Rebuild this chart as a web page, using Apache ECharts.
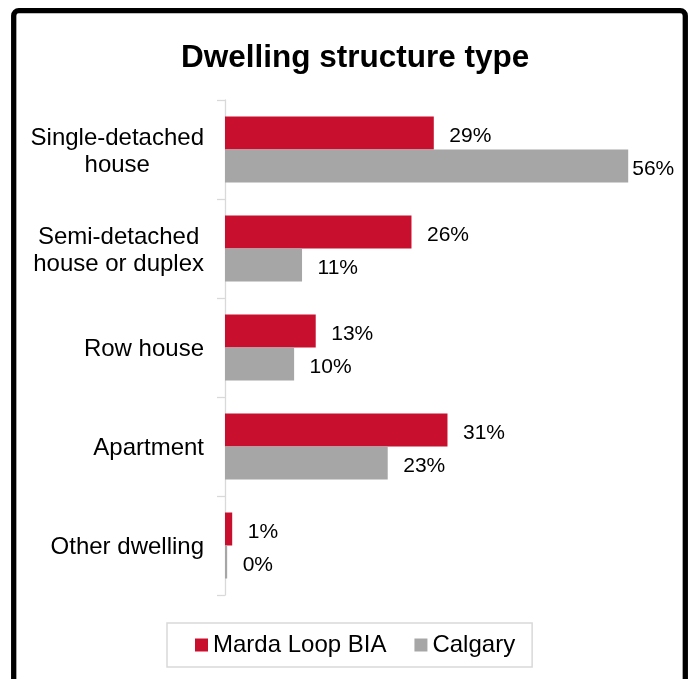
<!DOCTYPE html>
<html>
<head>
<meta charset="utf-8">
<script src="https://cdn.jsdelivr.net/npm/echarts@6/dist/echarts.min.js"></script>
<style>
html,body{margin:0;padding:0;background:#fff;}
#chart{width:692px;height:679px;}
</style>
</head>
<body>
<div id="chart"></div>
<script>
const categories = ["Single-detached\nhouse", "Semi-detached\nhouse or duplex", "Row house", "Apartment", "Other dwelling"];
const seriesNames = ["Marda Loop BIA", "Calgary"];
const mardaLoop = [29, 25.9, 12.6, 30.9, 1];
const calgary = [56, 10.7, 9.6, 22.6, 0.3];
const titleText = "Dwelling structure type";

const FONT = "'Liberation Sans', Arial, sans-serif";
const RED = "#C8102E";
const GRAY = "#A6A6A6";
const AXIS = "#D9D9D9";

function buildData(vals, distFn) {
  return vals.map((v, i) => ({ value: v, label: { distance: distFn(v, i) } }));
}

const chart = echarts.init(document.getElementById('chart'), null, { renderer: 'canvas' });
const labelCommon = {
  show: true,
  position: 'right',
  fontSize: 21,
  fontFamily: FONT,
  color: '#000',
  offset: [0, 3],
  formatter: p => Math.round(p.value) + '%'
};

chart.setOption({
  animation: false,
  backgroundColor: '#fff',
  title: {
    text: titleText,
    left: 176,
    top: 37,
    textStyle: { fontSize: 31.5, fontWeight: 'bold', fontFamily: FONT, color: '#000' }
  },
  legend: {
    data: seriesNames,
    left: 167,
    top: 623,
    orient: 'horizontal',
    padding: [10, 17, 10, 28],
    borderColor: AXIS,
    borderWidth: 1.5,
    itemWidth: 13,
    itemHeight: 13,
    itemGap: 28,
    icon: 'rect',
    textStyle: { fontSize: 24, fontFamily: FONT, color: '#000' }
  },
  grid: { left: 225, right: 35, top: 100, bottom: 84, containLabel: false },
  xAxis: {
    type: 'value', min: 0, max: 60, show: false,
    splitLine: { show: false }
  },
  yAxis: {
    type: 'category',
    inverse: true,
    data: categories,
    axisLine: { show: true, lineStyle: { color: AXIS, width: 1.3 } },
    axisTick: { show: true, length: 8, lineStyle: { color: AXIS, width: 1.3 } },
    axisLabel: {
      margin: 21,
      color: '#000',
      fontSize: 24,
      fontFamily: FONT,
      padding: [4, 0, 0, 0],
      formatter: v => v.split('\n').map(l => '{c|' + l + '}').join('\n'),
      rich: { c: { align: 'center', fontSize: 24, fontFamily: FONT, lineHeight: 27, color: '#000' } }
    }
  },
  series: [
    {
      name: seriesNames[0], type: 'bar', barWidth: 33, barGap: '0%',
      itemStyle: { color: RED },
      label: labelCommon,
      data: buildData(mardaLoop, () => 15.5)
    },
    {
      name: seriesNames[1], type: 'bar', barWidth: 33, barGap: '0%',
      itemStyle: { color: GRAY },
      label: labelCommon,
      data: buildData(calgary, (v) => v > 50 ? 4 : 15.5)
    }
  ],
  graphic: [{
    type: 'rect', z: 100,
    shape: { x: 13.7, y: 10.7, width: 671.6, height: 720, r: 5 },
    style: { fill: 'none', stroke: '#000', lineWidth: 5.3 }
  }]
});
</script>
</body>
</html>
